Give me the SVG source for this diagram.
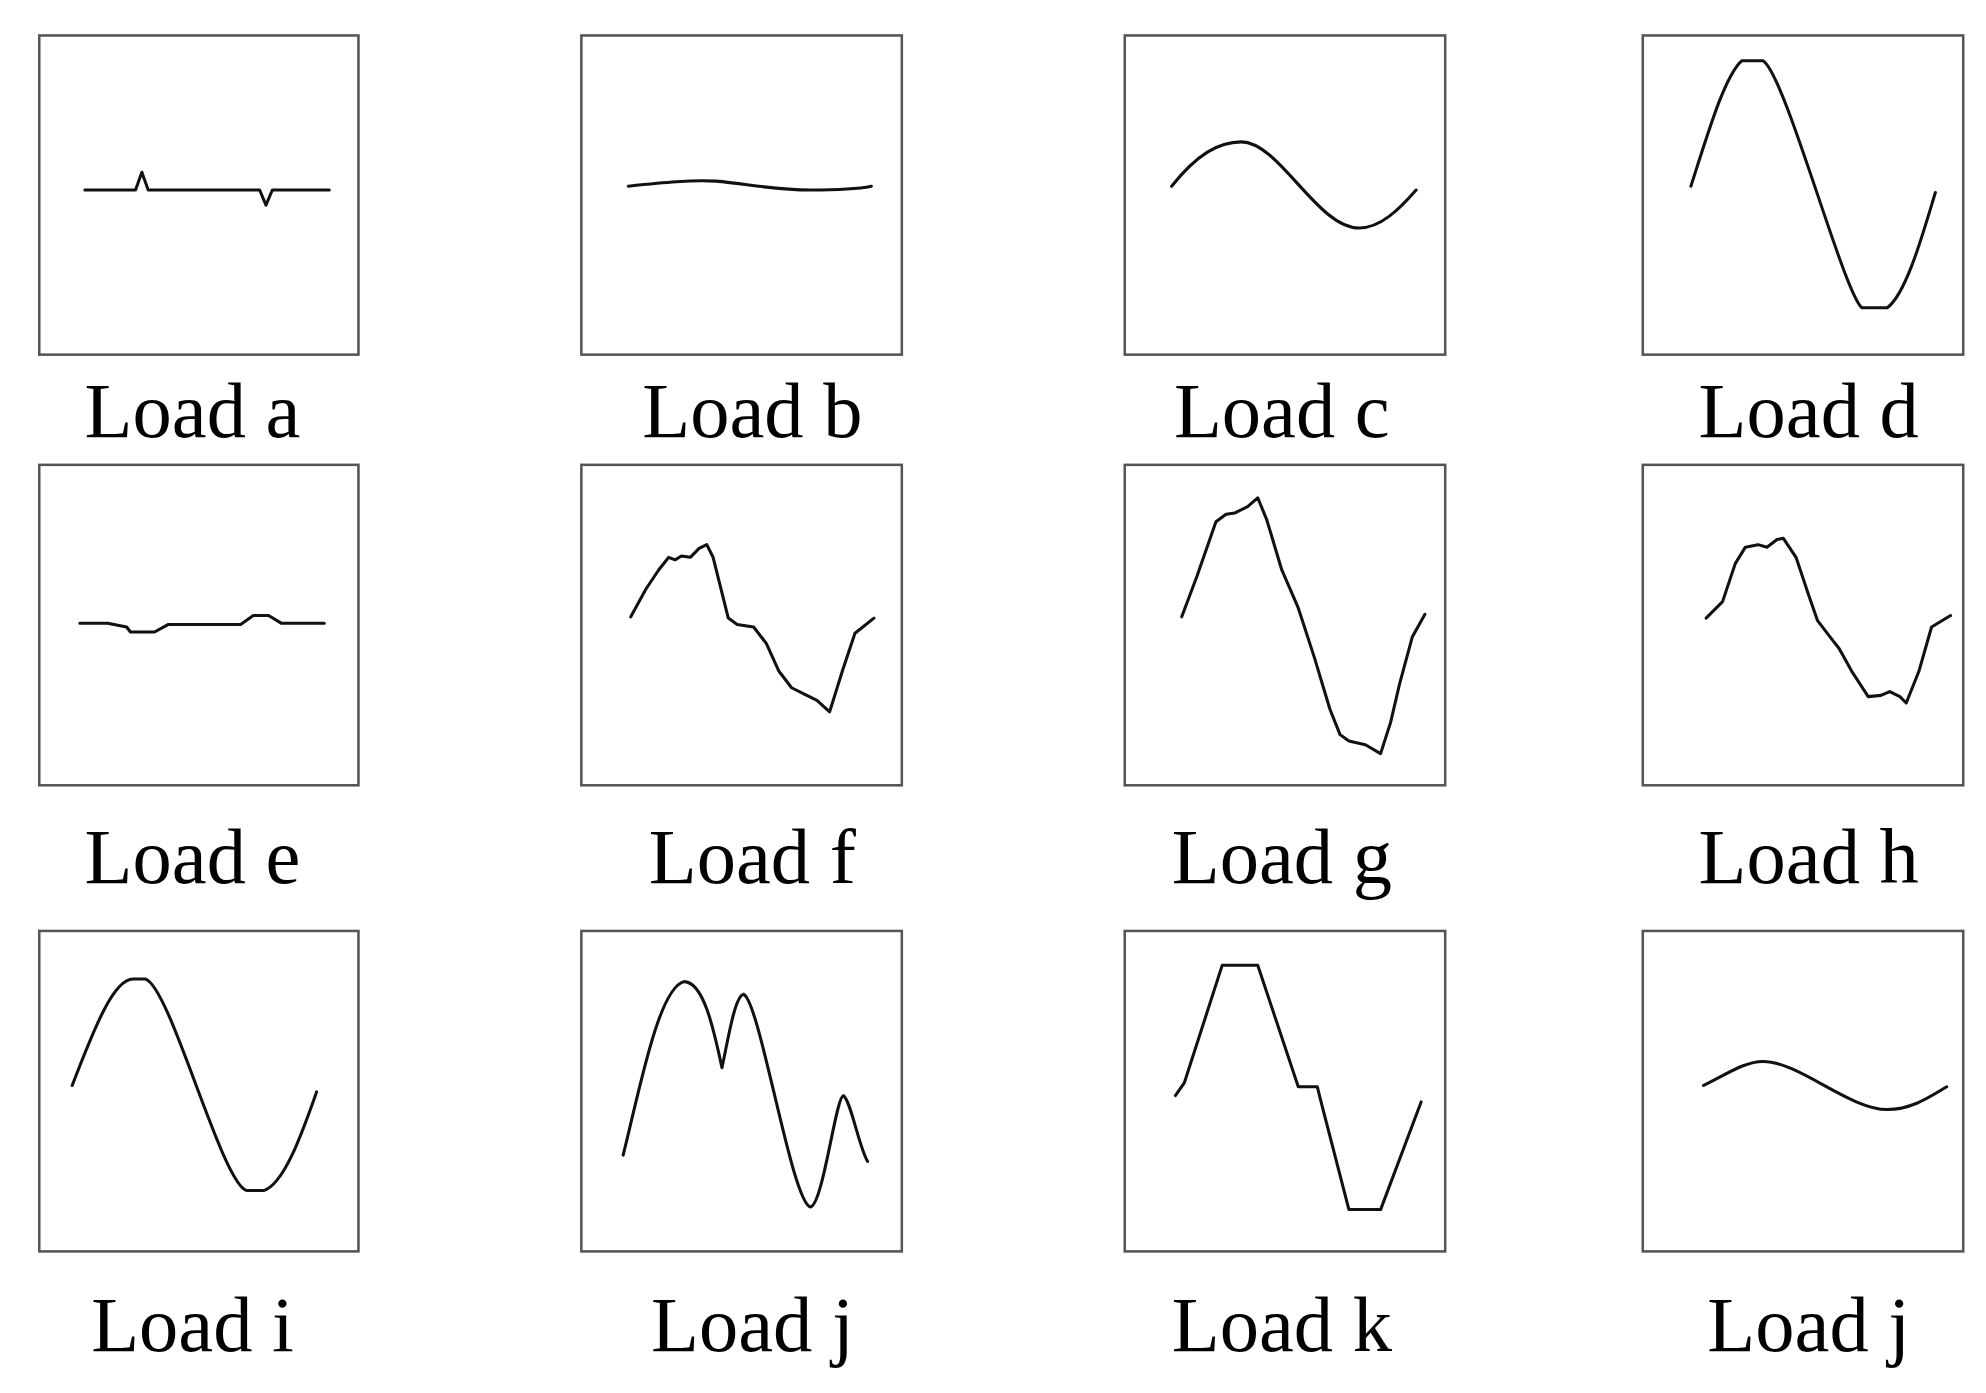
<svg xmlns="http://www.w3.org/2000/svg" width="1986" height="1393" viewBox="0 0 1986 1393">
<style>
.box{fill:#fff;stroke:#555;stroke-width:2}
.w{fill:none;stroke:#111;stroke-width:2.4;stroke-linejoin:round;stroke-linecap:round}
.t{font-family:"Liberation Serif","Times New Roman",serif;font-size:62px;fill:#000;text-anchor:middle}
</style>
<rect width="1986" height="1393" fill="#fff"/>
<g transform="scale(1.2666)">
<g id="a"><rect class="box" x="31" y="28" width="252" height="252"/><path class="w" d="M67,150 H107 L112,136 L117,150 H205 L210,162 L215,150 H260"/><text class="t" x="152" y="345">Load a</text></g>
<g id="b"><rect class="box" x="459" y="28" width="253" height="252"/><path class="w" d="M496,147 C525,144 545,142 565,143 C590,145 610,150 640,150 C665,150 678,149 688,147"/><text class="t" x="594" y="345">Load b</text></g>
<g id="c"><rect class="box" x="888" y="28" width="253" height="252"/><path class="w" d="M925,147 C945,122 962,112 980,112 C1010,112 1040,180 1073,180 C1090,180 1105,165 1118,150"/><text class="t" x="1012" y="345">Load c</text></g>
<g id="d"><rect class="box" x="1297" y="28" width="253" height="252"/><path class="w" d="M1335,147 C1350,100 1362,60 1375,48 H1392 C1410,60 1455,230 1470,243 H1490 C1505,232 1518,185 1528,152"/><text class="t" x="1428" y="345">Load d</text></g>
<g id="e"><rect class="box" x="31" y="367" width="252" height="253"/><path class="w" d="M63,492 H85 L100,495 L103,499 H122 L133,493 H190 L200,486 H212 L222,492 H256"/><text class="t" x="152" y="697">Load e</text></g>
<g id="f"><rect class="box" x="459" y="367" width="253" height="253"/><path class="w" d="M498,487 L510,465 L520,450 L528,440 L533,442 L538,439 L545,440 L552,433 L558,430 L563,440 L575,488 L582,493 L595,495 L605,508 L615,530 L625,543 L635,548 L645,553 L655,562 L665,530 L675,500 L690,488"/><text class="t" x="594" y="697">Load f</text></g>
<g id="g"><rect class="box" x="888" y="367" width="253" height="253"/><path class="w" d="M933,487 L945,455 L960,412 L968,406 L975,405 L985,400 L993,393 L1000,410 L1012,450 L1025,480 L1038,520 L1050,560 L1058,580 L1065,585 L1078,588 L1090,595 L1098,570 L1105,540 L1115,503 L1125,485"/><text class="t" x="1012" y="697">Load g</text></g>
<g id="h"><rect class="box" x="1297" y="367" width="253" height="253"/><path class="w" d="M1347,488 L1360,475 L1370,445 L1378,432 L1388,430 L1395,432 L1403,426 L1408,425 L1418,440 L1428,470 L1435,490 L1445,503 L1452,512 L1462,530 L1475,550 L1485,549 L1492,546 L1500,550 L1505,555 L1515,530 L1525,495 L1540,486"/><text class="t" x="1428" y="697">Load h</text></g>
<g id="i"><rect class="box" x="31" y="735" width="252" height="253"/><path class="w" d="M57,857 C75,810 90,773 105,773 H115 C135,780 175,935 195,940 H208 C225,935 240,890 250,862"/><text class="t" x="152" y="1067">Load i</text></g>
<g id="j"><rect class="box" x="459" y="735" width="253" height="253"/><path class="w" d="M492,912 C505,860 520,780 540,775 C555,775 563,810 570,843 C575,820 580,787 587,785 C600,790 625,950 640,953 C650,950 660,865 666,865 C672,870 678,905 685,917"/><text class="t" x="594" y="1067">Load j</text></g>
<g id="k"><rect class="box" x="888" y="735" width="253" height="253"/><path class="w" d="M928,865 L935,855 L965,762 H993 L1025,858 H1040 L1043,870 L1065,955 H1090 L1122,870"/><text class="t" x="1012" y="1067">Load k</text></g>
<g id="l"><rect class="box" x="1297" y="735" width="253" height="253"/><path class="w" d="M1345,857 C1365,847 1378,838 1392,838 C1420,838 1460,876 1490,876 C1510,876 1525,865 1537,858"/><text class="t" x="1428" y="1067">Load j</text></g>
<g id="connectors"></g>
</g>
</svg>
